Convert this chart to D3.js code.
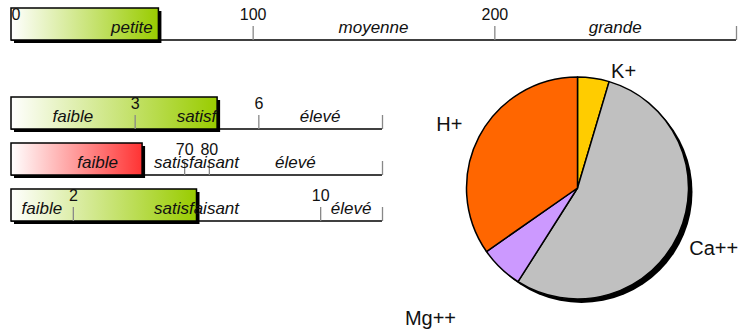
<!DOCTYPE html>
<head>
  <meta charset="utf-8">
  <script src="https://cdn.jsdelivr.net/npm/d3@7"></script>
  <style>
    body { margin: 0; background: white; }
    text { font-family: "Liberation Sans", Arial, sans-serif; fill: #111; }
    .cls { font-size: 17px; font-style: italic; text-anchor: middle; }
    .ion { font-size: 20px; text-anchor: middle; }
  </style>
</head>
<body>
<script>
// gauges: top one is the size scale, then the three rating gauges
const gaugeValues = [61, 5, 53, 6];
const gaugeMax = [300, 9, 150, 12];
const gaugeTicks = [[0, 100, 200], [3, 6], [70, 80], [2, 10]];
const gaugeClasses = [
  ["petite", "moyenne", "grande"],
  ["faible", "satisf", "élevé"],
  ["faible", "satisfaisant", "élevé"],
  ["faible", "satisfaisant", "élevé"]
];

// pie: cation shares (%)
const ions = ["K+", "Ca++", "Mg++", "H+"];
const ionShares = [4.6, 54.4, 6.3, 34.7];
const ionColors = ["#ffcc00", "#c0c0c0", "#cc99ff", "#ff6600"];

const W = 743, H = 331;
const svg = d3.select("body").append("svg").attr("width", W).attr("height", H);

const defs = svg.append("defs");
function grad(id, c) {
  const g = defs.append("linearGradient").attr("id", id);
  g.append("stop").attr("offset", "0%").attr("stop-color", "#ffffff");
  g.append("stop").attr("offset", "100%").attr("stop-color", c);
}
grad("gGreen", "#99cc00");
grad("gRed", "#ff3333");

// layout
const barTop = [8, 97, 143, 189];
const barH = 32;
const x0 = 11;
const x1 = [736, 382, 382, 382];

gaugeValues.forEach((v, i) => {
  const x = d3.scaleLinear().domain([0, gaugeMax[i]]).range([x0, x1[i]]);
  const ay = barTop[i] + barH;
  const g = svg.append("g");

  // axis baseline
  g.append("line").attr("x1", x0).attr("x2", x1[i]).attr("y1", ay).attr("y2", ay)
    .attr("stroke", "#000").attr("stroke-width", 1.5);

  const red = i > 0 && v < gaugeTicks[i][0];
  g.append("rect").attr("x", x(0) + 3).attr("y", barTop[i] + 3)
    .attr("width", x(v) - x(0)).attr("height", barH).attr("fill", "#000");
  g.append("rect").attr("x", x(0)).attr("y", barTop[i])
    .attr("width", x(v) - x(0)).attr("height", barH)
    .attr("fill", red ? "url(#gRed)" : "url(#gGreen)")
    .attr("stroke", "#000").attr("stroke-width", 1.5);

  // ticks + tick labels
  const tv = gaugeTicks[i].concat([gaugeMax[i]]);
  const ax = d3.axisTop(x).tickValues(tv).tickSizeInner(14).tickSizeOuter(0).tickPadding(6)
    .tickFormat(d => d === gaugeMax[i] ? "" : d);
  const ag = svg.append("g").attr("transform", `translate(0,${ay})`).call(ax);
  ag.select(".domain").remove();
  ag.attr("font-family", null).attr("font-size", null);
  ag.selectAll(".tick line").attr("stroke", "#888").attr("stroke-width", 1.3)
    .attr("opacity", d => d === 0 ? 0 : 1);
  ag.selectAll(".tick text").style("font-size", "16px").attr("fill", "#111")
    .attr("text-anchor", d => d === 0 ? "start" : "middle");

  // class labels centred between boundaries
  const bounds = Array.from(new Set([0].concat(gaugeTicks[i], [gaugeMax[i]])));
  gaugeClasses[i].forEach((c, k) => {
    svg.append("text").attr("class", "cls")
      .attr("x", (x(bounds[k]) + x(bounds[k + 1])) / 2)
      .attr("y", ay - 7).text(c);
  });
});

// pie
const cx = 577.5, cy = 188, R = 111;
const pie = d3.pie().sort(null).value(d => d);
const arcs = pie(ionShares);
const arc = d3.arc().innerRadius(0).outerRadius(R);
const pg = svg.append("g").attr("transform", `translate(${cx},${cy})`);
pg.append("circle").attr("cx", 4).attr("cy", 4).attr("r", R).attr("fill", "#000");
pg.selectAll("path.slice").data(arcs).enter().append("path")
  .attr("class", "slice")
  .attr("d", arc)
  .attr("fill", (d, i) => ionColors[i])
  .attr("stroke", "#000").attr("stroke-width", 1.5).attr("stroke-linejoin", "round");

// label placement: mid angle, nudged outwards
const labelNudge = [0.23, -0.01, 0.085, -0.02];
const labelR = [126, 149, 196, 143];
pg.selectAll("text.ion").data(arcs).enter().append("text")
  .attr("class", "ion")
  .attr("transform", (d, i) => {
    const p = d3.pointRadial((d.startAngle + d.endAngle) / 2 + labelNudge[i], labelR[i]);
    return `translate(${p[0]},${p[1] + 7})`;
  })
  .text((d, i) => ions[i]);
</script>
</body>
